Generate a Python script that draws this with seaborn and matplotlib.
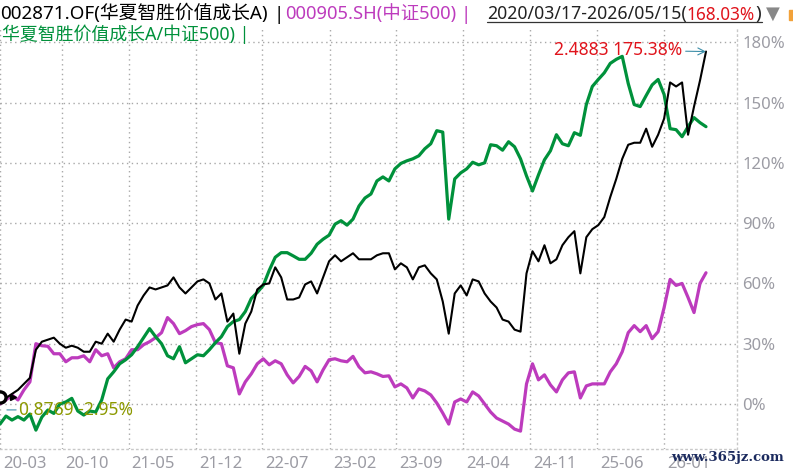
import matplotlib
matplotlib.use("Agg")
import matplotlib.pyplot as plt
import matplotlib.transforms as mtransforms
from matplotlib.lines import Line2D
from matplotlib.patches import Rectangle
import seaborn as sns
import pandas as pd

# ---- data (cumulative return, %) ----
start_date = "2020-03-17"
end_date = "2026-05-15"
n_points = 119

fund_pct = [
    0.5, 3, 5, 7, 10, 13, 27, 31, 32, 33,
    30, 28, 29, 28, 26, 26, 31, 30, 35, 31,
    37, 42, 41, 49, 54, 58, 57, 58, 59, 63,
    58, 55, 58, 61, 62, 60, 52, 55, 41, 45,
    25, 40, 46, 57, 59.5, 60, 68, 63, 52, 52,
    53, 59.5, 61, 55, 63, 71, 74, 71, 73, 75,
    72, 72, 72, 74, 75, 75, 67, 70, 68, 62,
    68, 69, 65, 62, 51, 35, 55, 59, 54, 62,
    61, 55, 51, 48, 42, 41, 37, 36, 65, 76,
    71, 79, 70, 72, 79, 83, 86, 65, 83, 87,
    89, 93, 103, 112, 122, 129, 130, 130, 137, 128,
    134, 142, 160, 158, 160, 134, 148, 161, 175.38,
]

index_pct = [
    0, 2, 4.5, 2, 7, 11, 30, 29, 28.7, 25,
    25, 21, 23, 23, 24, 21, 27, 24, 25, 18,
    21, 22.5, 27, 27, 29.5, 31, 33, 35.5, 43, 40,
    35, 36.5, 38.5, 39.5, 40, 37, 30.5, 30, 19, 18,
    5, 11, 15, 20, 22.5, 19.5, 21.5, 20, 14.5, 10.5,
    13.7, 18.7, 16.5, 11, 17, 22, 22.5, 21.5, 21, 23.7,
    18.5, 15.5, 16, 15, 13.7, 14, 8.5, 10, 8, 3,
    7.5, 6.5, 4.5, 0.5, -4.5, -10, 1, 2.5, 1, 6,
    4, 0, -4, -7, -8.5, -10, -12.5, -13.5, 10, 20,
    12, 14.5, 9.5, 6, 12, 15.5, 16, 3, 9, 10,
    10, 10, 16, 20, 26, 35.5, 39, 36, 39, 32.5,
    36, 48, 62, 59, 60, 53, 45.5, 60, 65.3,
]

ratio_pct = [
    -10, -6, -8, -6.3, -8, -5, -13, -6.5, -3, -4.7,
    0, 1, 2.8, -3.5, -5.5, -3.5, -4, 2, 12.5, 16,
    20, 22, 24.5, 28.5, 33, 37.5, 33.5, 30, 24, 22.5,
    28.5, 20.5, 22.5, 24.5, 24, 27, 30.5, 33.5, 38.5, 41,
    42, 46, 52.5, 55.5, 59, 66.5, 73, 75.3, 75.3, 73.7,
    72, 72, 75, 79.5, 82, 84, 89.5, 91.2, 89, 92,
    98.5, 102.5, 104.5, 111, 113, 111, 117, 119.7, 121, 122,
    123.5, 127, 129.5, 136, 135.3, 92, 112, 115, 117, 120.3,
    119, 120, 129, 128.5, 126.3, 130.5, 128, 122, 113.5, 106,
    114, 121.5, 126, 134, 129.5, 128.5, 135, 133.7, 149, 158,
    161.5, 164.8, 169.5, 171.5, 173, 159.5, 149, 148, 153.5, 158.8,
    161.5, 154, 137, 136.5, 133, 138, 142.5, 140, 138,
]

tick_dates = ["2020-03-17", "2020-10-01", "2021-05-01", "2021-12-01", "2022-07-01",
              "2023-02-01", "2023-09-01", "2024-04-01", "2024-11-01", "2025-06-01",
              "2026-01-01"]
tick_labels = ["20-03", "20-10", "21-05", "21-12", "22-07", "23-02",
               "23-09", "24-04", "24-11", "25-06", "26-01"]
y_ticks = [0, 30, 60, 90, 120, 150, 180]

max_label = "2.4883 175.38%"
min_label = "0.8769 -2.95%"
min_value = -2.95

df = pd.DataFrame({
    "date": pd.date_range(start_date, end_date, periods=n_points),
    "fund": fund_pct,
    "index": index_pct,
    "ratio": ratio_pct,
})

sns.set_theme(style="white")
plt.rcParams["font.family"] = ["Noto Sans", "Noto Sans CJK SC", "DejaVu Sans"]

W, H = 793, 474


def px(x):
    return x / W


def py(y):
    return 1 - y / H


fig = plt.figure(figsize=(W / 100, H / 100), dpi=100)
renderer = fig.canvas.get_renderer()
ax = fig.add_axes([0, py(449), px(737), (449 - 28) / H])

c_fund, c_index, c_ratio = "#000000", "#bd3bbd", "#00913b"
sns.lineplot(data=df, x="date", y="index", color=c_index, lw=2.3, ax=ax)
sns.lineplot(data=df, x="date", y="ratio", color=c_ratio, lw=2.3, ax=ax)
sns.lineplot(data=df, x="date", y="fund", color=c_fund, lw=1.5, ax=ax)

t0 = pd.Timestamp(start_date)
t1 = pd.Timestamp(end_date)
span = (t1 - t0) * (737 / 706)
ax.set_xlim(t0, t0 + span)
ax.set_ylim(-22.4, 187.1)

ax.set_xticks(pd.to_datetime(tick_dates))
ax.set_xticklabels(tick_labels)
ax.set_yticks(y_ticks)
ax.set_yticklabels([f"{v}%" for v in y_ticks])
ax.yaxis.tick_right()
ax.set_xlabel("")
ax.set_ylabel("")
ax.tick_params(axis="both", length=0, labelsize=12, colors="#9c9ca4")
ax.tick_params(axis="y", pad=4)
ax.tick_params(axis="x", pad=5)
shift = mtransforms.ScaledTranslation(3 / 100, 0, fig.dpi_scale_trans)
for lab in ax.get_xticklabels():
    lab.set_horizontalalignment("left")
    lab.set_transform(lab.get_transform() + shift)

ax.grid(True, linestyle=(0, (1, 2.5)), color="#a8a8a8", lw=1.0)
for side in ["top", "left"]:
    ax.spines[side].set_visible(False)
for side in ["bottom", "right"]:
    ax.spines[side].set_linestyle((0, (1, 2.5)))
    ax.spines[side].set_color("#c8c8c8")
    ax.spines[side].set_linewidth(1.0)

# end-point and low-point notes
ax.annotate(max_label, xy=(t1, fund_pct[-1]), xytext=(-17, 1), textcoords="offset points",
            ha="right", va="center", fontsize=12.5, color="#e0141c",
            arrowprops=dict(arrowstyle="->", color="#3d8ea8", lw=0.8, shrinkA=0, shrinkB=0))
low_x = t0 + pd.Timedelta(days=22)
ax.annotate(min_label, xy=(low_x, min_value), xytext=(9, 0), textcoords="offset points",
            ha="left", va="center", fontsize=12.5, color="#8c9900",
            arrowprops=dict(arrowstyle="-", color="#3d8ea8", lw=0.8, shrinkA=0, shrinkB=0))
ax.plot([t0], [fund_pct[0] + 3], marker="o", ms=8, mfc="white", mec="black", mew=2.4,
        clip_on=False, zorder=5)
ax.plot([t0 + pd.Timedelta(days=40)], [fund_pct[0] + 3], marker=">", ms=5, color="black",
        zorder=5)


def fit_text(x0, x1, y, s, color, fs=13.5):
    # place a header piece so that it spans x0..x1 pixels
    t = fig.text(px(x0), py(y), s, fontsize=fs, color=color, va="baseline")
    w = t.get_window_extent(renderer).width
    t.set_fontsize(fs * (x1 - x0) / w)
    return t


# header texts
fit_text(0, 268, 19.5, "002871.OF(华夏智胜价值成长A)", "black")
fig.text(px(273), py(19.5), "|", fontsize=13.5, color="black", va="baseline")
fit_text(285, 456, 19.5, "000905.SH(中证500)", c_index)
fig.text(px(460), py(19.5), "|", fontsize=13.5, color=c_index, va="baseline")
fit_text(487, 686, 19.5, "2020/03/17-2026/05/15(", "#222222")
fit_text(687, 755, 19.5, "168.03%", "#e0141c")
fig.text(px(755.5), py(19.5), ")", fontsize=13.5, color="#222222", va="baseline")
fig.add_artist(Line2D([px(487), px(762)], [py(22)] * 2, color="#333333", lw=0.9))
fig.text(px(766), py(19), "\u25bc", fontsize=13, color="#888888", va="baseline",
         family="DejaVu Sans")
fig.add_artist(Rectangle((px(789), py(20)), px(4), 10 / H, color="#f2a23a",
                         transform=fig.transFigure))
fit_text(2, 250, 39.5, "华夏智胜价值成长A/中证500) |", c_ratio)

fig.text(px(671), py(458), "www.365jz.com", fontsize=9.5, fontweight="bold",
         family="DejaVu Serif", color="#1b2a5e", va="center")

fig.savefig("out.png", dpi=100)
